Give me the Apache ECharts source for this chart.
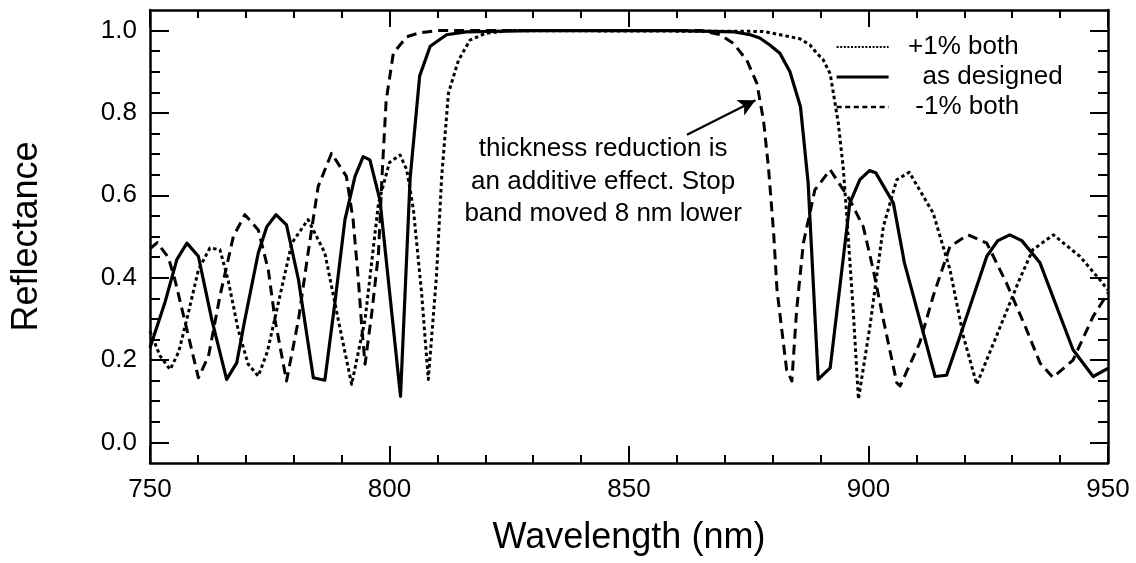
<!DOCTYPE html>
<html>
<head>
<meta charset="utf-8">
<title>Reflectance vs wavelength</title>
<script src="https://cdn.jsdelivr.net/npm/echarts@6/dist/echarts.min.js"></script>
<style>
  html, body { margin: 0; padding: 0; background: #fff; }
  #chart { width: 1136px; height: 563px; }
</style>
</head>
<body>
<div id="chart"></div>
<script>
// "as designed" stack
const designWl = [750, 753.1, 755.6, 757.7, 760.1, 762.9, 766.0, 768.1, 769.8, 772.6, 774.4, 776.3, 778.5, 781.0, 784.1, 786.5, 788.6, 790.7, 792.8, 794.5, 795.9, 798.0, 802.3, 804.3, 806.3, 808.5, 811.9, 816, 830, 860, 872, 875.3, 877.3, 879.4, 881.5, 883.6, 885.8, 887.4, 889.5, 892.0, 896.1, 898.2, 900.2, 901.5, 905.2, 907.5, 910.7, 913.9, 916.3, 919.1, 924.7, 927, 929.5, 932, 935.8, 942.7, 946.9, 950];
const designR  = [0.23, 0.339, 0.444, 0.484, 0.452, 0.298, 0.153, 0.193, 0.298, 0.46, 0.524, 0.553, 0.528, 0.395, 0.157, 0.151, 0.339, 0.541, 0.646, 0.694, 0.686, 0.589, 0.112, 0.64, 0.89, 0.962, 0.99, 0.997, 1.0, 1.0, 0.997, 0.99, 0.982, 0.965, 0.945, 0.9, 0.815, 0.63, 0.153, 0.181, 0.581, 0.638, 0.66, 0.655, 0.581, 0.436, 0.298, 0.16, 0.163, 0.258, 0.452, 0.49, 0.504, 0.49, 0.436, 0.225, 0.16, 0.18];

// layers 1% thinner: stop band shifted to shorter wavelengths
const minusWl = [750, 751.5, 753.8, 755.2, 757.7, 760.1, 762.2, 764.6, 767.4, 769.8, 772.6, 774.7, 776.1, 778.5, 781.0, 783.0, 785.1, 787.9, 791.0, 792.4, 793.5, 794.2, 794.9, 796.3, 797.7, 798.5, 799.3, 800.8, 803.6, 806.4, 810, 865, 869, 871.8, 874.6, 876.7, 878.1, 879.1, 880.2, 880.9, 882.9, 884.0, 885.0, 886.4, 888.8, 892.0, 896.1, 898.9, 901.0, 903.1, 905.9, 906.6, 910.7, 913.5, 917.0, 920.8, 924.7, 928.8, 933.0, 935.8, 938.5, 942.7, 946.9, 950];
const minusR  = [0.47, 0.485, 0.45, 0.395, 0.274, 0.157, 0.209, 0.355, 0.5, 0.553, 0.516, 0.419, 0.298, 0.149, 0.298, 0.46, 0.621, 0.702, 0.646, 0.541, 0.395, 0.282, 0.19, 0.314, 0.46, 0.66, 0.83, 0.945, 0.985, 0.995, 1.0, 1.0, 0.99, 0.969, 0.928, 0.872, 0.78, 0.67, 0.508, 0.37, 0.177, 0.149, 0.322, 0.484, 0.613, 0.662, 0.589, 0.524, 0.419, 0.298, 0.145, 0.137, 0.242, 0.355, 0.476, 0.504, 0.484, 0.387, 0.274, 0.193, 0.158, 0.2, 0.306, 0.363];

// layers 1% thicker: stop band shifted to longer wavelengths
const plusWl = [750, 752.1, 754.2, 756, 758.0, 760.1, 762.5, 764.6, 766.3, 768.4, 770.5, 772.6, 774.5, 776.8, 779.6, 783.0, 786.5, 789.3, 792.1, 794.9, 797.7, 800.0, 802.2, 803.6, 805.0, 806.7, 808.1, 809.8, 810.9, 812.3, 814.4, 816.8, 820, 825, 878, 883.6, 885.7, 887.8, 889.2, 890.5, 892.0, 893.7, 894.7, 895.4, 896.8, 897.9, 900.3, 903.1, 905.9, 908.5, 913.5, 917.0, 919.8, 922.6, 926.7, 931.5, 934.3, 938.6, 944.1, 948.3, 950];
const plusR  = [0.27, 0.21, 0.177, 0.22, 0.314, 0.419, 0.472, 0.468, 0.395, 0.274, 0.19, 0.161, 0.22, 0.339, 0.484, 0.541, 0.46, 0.298, 0.141, 0.298, 0.581, 0.68, 0.698, 0.662, 0.565, 0.363, 0.153, 0.403, 0.646, 0.848, 0.928, 0.977, 0.993, 1.0, 0.998, 0.985, 0.98, 0.965, 0.945, 0.93, 0.895, 0.775, 0.67, 0.56, 0.322, 0.105, 0.282, 0.524, 0.638, 0.656, 0.557, 0.42, 0.258, 0.141, 0.258, 0.395, 0.468, 0.504, 0.452, 0.395, 0.37];

const seriesNames = ['+1% both', 'as designed', '-1% both'];
const yLabelValues = [0, 0.2, 0.4, 0.6, 0.8, 1.0];
const yMinorValues = [0.05, 0.1, 0.15, 0.25, 0.3, 0.35, 0.45, 0.5, 0.55, 0.65, 0.7, 0.75, 0.85, 0.9, 0.95];
const noteLines = ['thickness reduction is', 'an additive effect. Stop', 'band moved 8 nm lower'];
const noteAnchor = [844.6, 0.633];
const arrowFrom = [862.1, 0.747];
const arrowTo = [876.4, 0.831];

const FONT = '"Liberation Sans", Arial, Helvetica, sans-serif';
const BLACK = '#000';
const HIDDEN = { color: 'rgba(0,0,0,0)', opacity: 0, borderWidth: 0 };

const pairs = (xs, ys) => xs.map((x, i) => [x, ys[i]]);

const xBase = {
  type: 'value', min: 750, max: 950, interval: 50,
  axisLine: { show: true, onZero: false, lineStyle: { color: BLACK, width: 2.5 } },
  axisTick: { show: true, inside: true, length: 17, lineStyle: { color: BLACK, width: 2 } },
  minorTick: { show: true, splitNumber: 5, length: 8, lineStyle: { color: BLACK, width: 2 } },
  splitLine: { show: false },
  minorSplitLine: { show: false }
};

const yBase = {
  type: 'value', min: -0.05, max: 1.05,
  splitLine: { show: false },
  axisLabel: { show: false }
};

const option = {
  animation: false,
  backgroundColor: '#fff',
  textStyle: { fontFamily: FONT, color: BLACK },
  grid: { left: 150, right: 28, top: 10, bottom: 100, containLabel: false },
  xAxis: [
    Object.assign({}, xBase, {
      position: 'bottom',
      axisLabel: { show: true, fontSize: 26, margin: 14, color: BLACK, fontFamily: FONT },
      name: 'Wavelength (nm)', nameLocation: 'middle', nameGap: 57,
      nameTextStyle: { fontSize: 36, color: BLACK, fontFamily: FONT }
    }),
    Object.assign({}, xBase, { position: 'top', axisLabel: { show: false } })
  ],
  yAxis: [
    Object.assign({}, yBase, {
      position: 'left',
      axisLine: { show: true, onZero: false, lineStyle: { color: BLACK, width: 2.5 } },
      axisTick: { show: true, inside: true, length: 19, customValues: yLabelValues, lineStyle: { color: BLACK, width: 2 } },
      axisLabel: { show: true, customValues: yLabelValues, formatter: v => v.toFixed(1), fontSize: 26, margin: 13, color: BLACK, fontFamily: FONT },
      name: 'Reflectance', nameLocation: 'middle', nameRotate: 90, nameGap: 105,
      nameTextStyle: { fontSize: 36, color: BLACK, fontFamily: FONT }
    }),
    Object.assign({}, yBase, {
      position: 'left',
      axisLine: { show: false, onZero: false },
      axisTick: { show: true, inside: true, length: 10, customValues: yMinorValues, lineStyle: { color: BLACK, width: 2 } }
    }),
    Object.assign({}, yBase, {
      position: 'right',
      axisLine: { show: true, onZero: false, lineStyle: { color: BLACK, width: 2.5 } },
      axisTick: { show: true, inside: true, length: 18, customValues: yLabelValues, lineStyle: { color: BLACK, width: 2 } }
    }),
    Object.assign({}, yBase, {
      position: 'right',
      axisLine: { show: false, onZero: false },
      axisTick: { show: true, inside: true, length: 10, customValues: yMinorValues, lineStyle: { color: BLACK, width: 2 } }
    })
  ],
  legend: {
    orient: 'vertical', left: 835, top: 32, padding: 0, itemGap: 0,
    itemWidth: 52, itemHeight: 14, selectedMode: false,
    itemStyle: HIDDEN,
    textStyle: { fontSize: 26, lineHeight: 30, color: BLACK, fontFamily: FONT },
    formatter: name => ({ '+1% both': '  +1% both', 'as designed': '    as designed', '-1% both': '   -1% both' }[name]),
    data: [
      { name: seriesNames[0], itemStyle: HIDDEN, lineStyle: { type: [2, 1.6], width: 2.2, color: BLACK } },
      { name: seriesNames[1], itemStyle: HIDDEN, lineStyle: { type: 'solid', width: 3.2, color: BLACK } },
      { name: seriesNames[2], itemStyle: HIDDEN, lineStyle: { type: [5, 3.6], width: 2.6, color: BLACK } }
    ]
  },
  series: [
    {
      name: seriesNames[0], type: 'line', data: pairs(plusWl, plusR),
      symbol: 'none', showSymbol: false, smooth: false,
      lineStyle: { color: BLACK, width: 3, type: [3.5, 3], cap: 'butt', join: 'round' },
      itemStyle: { color: BLACK }, z: 3
    },
    {
      name: seriesNames[1], type: 'line', data: pairs(designWl, designR),
      symbol: 'none', showSymbol: false, smooth: false,
      lineStyle: { color: BLACK, width: 3.2, type: 'solid', join: 'round' },
      itemStyle: { color: BLACK }, z: 4
    },
    {
      name: seriesNames[2], type: 'line', data: pairs(minusWl, minusR),
      symbol: 'none', showSymbol: false, smooth: false,
      lineStyle: { color: BLACK, width: 3, type: [10, 6], cap: 'butt', join: 'round' },
      itemStyle: { color: BLACK }, z: 3,
      // arrow pointing at the shifted band edge
      markLine: {
        silent: true, animation: false,
        symbol: ['none', 'arrow'], symbolSize: [13, 17],
        lineStyle: { color: BLACK, width: 2.2, type: 'solid' },
        label: { show: false },
        data: [[{ coord: arrowFrom }, { coord: arrowTo }]]
      }
    }
  ]
};

const chart = echarts.init(document.getElementById('chart'), null, { renderer: 'canvas' });
chart.setOption(option);

// annotation text placed at a data-space anchor
const notePos = chart.convertToPixel({ gridIndex: 0 }, noteAnchor);
chart.setOption({
  graphic: [{
    type: 'text', x: notePos[0], y: notePos[1], silent: true, z: 10,
    style: {
      text: noteLines.join('\n'), fill: BLACK, font: '26px ' + FONT,
      align: 'center', verticalAlign: 'middle', lineHeight: 32.5
    }
  }]
});
</script>
</body>
</html>
